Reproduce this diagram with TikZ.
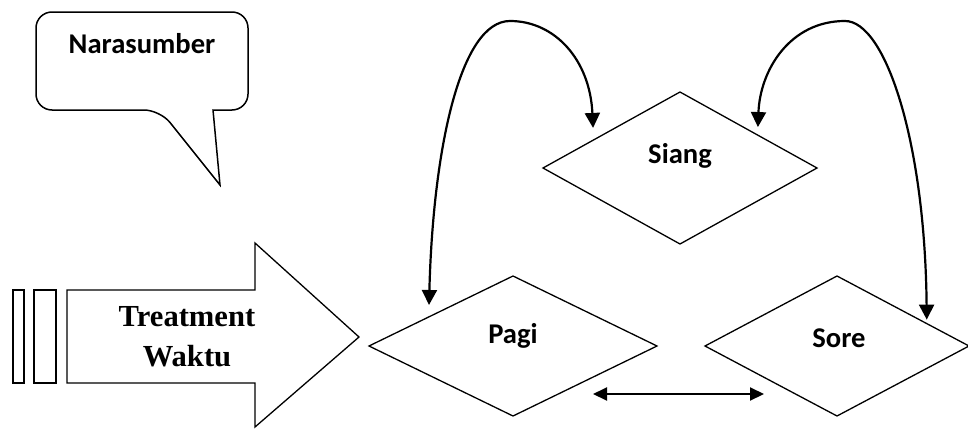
\documentclass[tikz,border=0pt]{standalone}
\usepackage{fontspec}
\setmainfont{Liberation Serif}
\newfontfamily\calibri{Carlito}
\usetikzlibrary{shapes.geometric,arrows.meta,calc}

\tikzset{
  waktu/.style={diamond, draw, line width=0.65pt, inner sep=0pt, outer sep=0pt},
  lbl/.style={font=\calibri\bfseries\fontsize{14.3}{17}\selectfont, inner sep=0pt, anchor=base},
  loop arrow/.style={line width=1.1pt, {Triangle[length=7.5pt,width=7.5pt]}-{Triangle[length=7.5pt,width=7.5pt]}},
  dbl arrow/.style={line width=1pt, {Triangle[length=7pt,width=6.5pt]}-{Triangle[length=7pt,width=6.5pt]}},
}

\begin{document}
\begin{tikzpicture}[x=0.5pt,y=0.5pt,yscale=-1]
\useasboundingbox (0,0) rectangle (968,428);

%Shape: Callout
\draw [line width=0.75pt, rounded corners=8pt] (36,60) -- (36,110) -- (160,110) [sharp corners] -- (220,185) -- (213,110) -- (228,110) [rounded corners=8pt] -- (248,110) -- (248,12) -- (36,12) -- cycle ;
% Text Node
\node [lbl] (narasumber) at (142,53) {Narasumber};

%Shape: Rectangles
\draw [line width=0.65pt] (13,290) rectangle (24,383) ;
\draw [line width=0.65pt] (34,290) rectangle (56,383) ;
%Shape: Right Arrow
\draw [line width=0.65pt] (67,290) -- (255,290) -- (255,243) -- (359,337) -- (255,427) -- (255,383) -- (67,383) -- cycle ;
% Text Node
\node [font=\bfseries\fontsize{15.3}{20}\selectfont, align=center, inner sep=0pt] (treatment) at (187,337) {Treatment\\Waktu};

%Shape: Diamonds
\node [waktu, minimum width=137pt, minimum height=76pt] (siang) at (680,168) {};
\node [waktu, minimum width=144pt, minimum height=70pt] (pagi) at (513,346) {};
\node [waktu, minimum width=132pt, minimum height=70pt] (sore) at (837,346) {};
% Text Node
\node [lbl] (siang text) at (680,163) {Siang};
% Text Node
\node [lbl] (pagi text) at (513,343) {Pagi};
% Text Node
\node [lbl] (sore text) at (839,347) {Sore};

%Curve Lines
\draw [loop arrow, shorten <=6pt, shorten >=6pt] (pagi.161) .. controls (433,150) and (460,21) .. (510,21) .. controls (555,21) and (590,60) .. (siang.162) ;
%Curve Lines
\draw [loop arrow, shorten <=4pt, shorten >=2pt] (siang.23) .. controls (760,70) and (790,21) .. (845,21) .. controls (885,21) and (925,140) .. (sore.14) ;
%Straight Lines
\draw [dbl arrow] ($(pagi.south east)+(8,13)$) -- ($(sore.south west)+(-7,13)$) ;

\end{tikzpicture}
\end{document}
